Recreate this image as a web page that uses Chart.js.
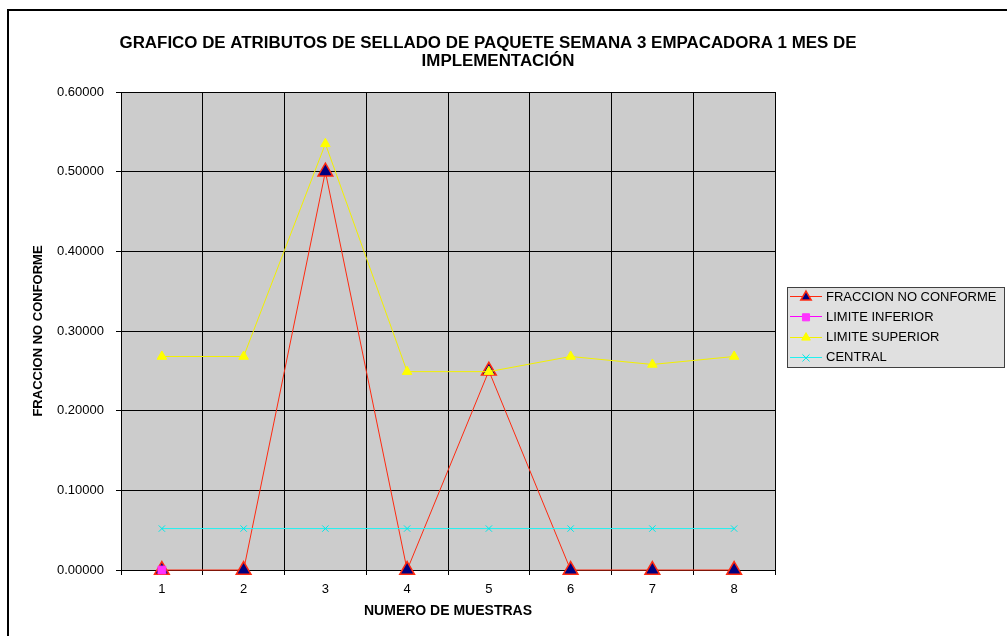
<!DOCTYPE html>
<html>
<head>
<meta charset="utf-8">
<script src="https://cdn.jsdelivr.net/npm/chart.js@4/dist/chart.umd.min.js"></script>
<style>
  html, body { margin: 0; padding: 0; background: #ffffff; overflow: hidden; }
  #wrap { position: relative; width: 1007px; height: 636px; }
</style>
</head>
<body>
<div id="wrap"><canvas id="c" width="1007" height="636"></canvas></div>
<script>
// Sample numbers along the x axis
const muestras = ['1', '2', '3', '4', '5', '6', '7', '8'];
// Fraction non-conforming per sample
const fraccionNoConforme = [0, 0, 0.5, 0, 0.25, 0, 0, 0];
// Lower control limit (only the first point falls inside the 0..0.6 range)
const limiteInferior = [0, null, null, null, null, null, null, null];
// Upper control limit per sample
const limiteSuperior = [0.268, 0.268, 0.535, 0.249, 0.249, 0.268, 0.258, 0.268];
// Center line
const central = [0.052, 0.052, 0.052, 0.052, 0.052, 0.052, 0.052, 0.052];
// Y axis tick values
const yTicks = [0, 0.1, 0.2, 0.3, 0.4, 0.5, 0.6];

const titleLines = ['GRAFICO DE ATRIBUTOS DE SELLADO DE PAQUETE SEMANA 3 EMPACADORA 1 MES DE', 'IMPLEMENTACIÓN'];
const FONT = '"Liberation Sans", Arial, sans-serif';

// Frame, plot background and title
const framePlugin = {
  id: 'frame',
  beforeDraw(chart) {
    const ctx = chart.ctx;
    const a = chart.chartArea;
    ctx.save();
    ctx.fillStyle = '#ffffff';
    ctx.fillRect(0, 0, chart.width, chart.height);
    ctx.strokeStyle = '#000000';
    ctx.lineWidth = 2;
    ctx.strokeRect(8, 10, 1200, 800);
    ctx.fillStyle = '#cccccc';
    ctx.fillRect(a.left, a.top, a.right - a.left, a.bottom - a.top);
    ctx.restore();
  },
  afterDraw(chart) {
    const ctx = chart.ctx;
    ctx.save();
    ctx.fillStyle = '#000000';
    ctx.font = 'bold 16px ' + FONT;
    ctx.textBaseline = 'middle';
    ctx.textAlign = 'center';
    const w0 = ctx.measureText(titleLines[0]).width;
    const sx = 737 / w0;
    const ys = [44, 62];
    const cx = [488, 498];
    titleLines.forEach((t, i) => {
      ctx.save();
      ctx.translate(cx[i], ys[i]);
      ctx.scale(sx, 1);
      ctx.fillText(t, 0, 0);
      ctx.restore();
    });
    ctx.restore();
  }
};

function drawShape(ctx, style, r, x, y) {
  if (style === 'triangle') {
    ctx.moveTo(x, y - r);
    ctx.lineTo(x + r * 0.866, y + r * 0.5);
    ctx.lineTo(x - r * 0.866, y + r * 0.5);
    ctx.closePath();
  } else if (style === 'rect') {
    const s = r * Math.SQRT1_2;
    ctx.rect(x - s, y - s, 2 * s, 2 * s);
  } else if (style === 'crossRot') {
    const s = r * Math.SQRT1_2;
    ctx.moveTo(x - s, y - s); ctx.lineTo(x + s, y + s);
    ctx.moveTo(x + s, y - s); ctx.lineTo(x - s, y + s);
  }
}

// Boxed legend at the right of the plot
const legendPlugin = {
  id: 'boxLegend',
  afterDraw(chart) {
    const ctx = chart.ctx;
    const x = 787, y = 287, w = 217, h = 80;
    ctx.save();
    ctx.fillStyle = '#e0e0e0';
    ctx.fillRect(x, y, w, h);
    ctx.strokeStyle = '#404040';
    ctx.lineWidth = 1;
    ctx.strokeRect(x + 0.5, y + 0.5, w, h);
    ctx.font = '13px ' + FONT;
    ctx.textBaseline = 'middle';
    ctx.textAlign = 'left';
    chart.data.datasets.forEach((ds, i) => {
      const ry = y + 9 + i * 20.3;
      ctx.strokeStyle = ds.borderColor;
      ctx.lineWidth = 1;
      ctx.beginPath();
      ctx.moveTo(x + 3, Math.round(ry) + 0.5);
      ctx.lineTo(x + 35, Math.round(ry) + 0.5);
      ctx.stroke();
      const r = ds.legendRadius;
      ctx.fillStyle = ds.pointBackgroundColor;
      ctx.strokeStyle = ds.pointBorderColor;
      ctx.lineWidth = ds.pointBorderWidth;
      ctx.beginPath();
      drawShape(ctx, ds.pointStyle, r, x + 19, ry + 1);
      if (ds.pointStyle !== 'crossRot') ctx.fill();
      ctx.stroke();
      ctx.fillStyle = '#000000';
      ctx.fillText(ds.label, x + 39, ry + 1);
    });
    ctx.restore();
  }
};

new Chart(document.getElementById('c'), {
  type: 'line',
  data: {
    labels: muestras,
    datasets: [
      {
        label: 'FRACCION NO CONFORME',
        data: fraccionNoConforme,
        borderColor: '#ff2a10',
        borderWidth: 1,
        pointStyle: 'triangle',
        pointRadius: 8.5,
        legendRadius: 6,
        pointBackgroundColor: '#000080',
        pointBorderColor: '#ff2a10',
        pointBorderWidth: 1.5,
        clip: false,
        order: 4
      },
      {
        label: 'LIMITE INFERIOR',
        data: limiteInferior,
        borderColor: '#ff00ff',
        borderWidth: 1,
        pointStyle: 'rect',
        pointRadius: 5.5,
        legendRadius: 5,
        pointBackgroundColor: '#ff33ff',
        pointBorderColor: '#ff33ff',
        pointBorderWidth: 1,
        clip: false,
        order: 3
      },
      {
        label: 'LIMITE SUPERIOR',
        data: limiteSuperior,
        borderColor: '#f2f000',
        borderWidth: 1,
        pointStyle: 'triangle',
        pointRadius: 5.5,
        legendRadius: 5,
        pointBackgroundColor: '#ffff00',
        pointBorderColor: '#ffff00',
        pointBorderWidth: 1,
        clip: false,
        order: 2
      },
      {
        label: 'CENTRAL',
        data: central,
        borderColor: '#22f0f0',
        borderWidth: 1,
        pointStyle: 'crossRot',
        pointRadius: 4.5,
        legendRadius: 5,
        pointBackgroundColor: '#00ffff',
        pointBorderColor: '#00e8e8',
        pointBorderWidth: 1,
        clip: false,
        order: 1
      }
    ]
  },
  options: {
    responsive: false,
    animation: false,
    devicePixelRatio: 1,
    layout: { padding: { left: 31, right: 232, top: 92, bottom: 16 } },
    elements: { line: { tension: 0 } },
    plugins: {
      legend: { display: false },
      title: { display: false },
      tooltip: { enabled: false }
    },
    scales: {
      x: {
        offset: true,
        grid: { offset: true, color: '#000000', lineWidth: 1, tickLength: 5, drawOnChartArea: true },
        border: { color: '#000000', width: 1 },
        ticks: { color: '#000000', font: { family: FONT, size: 13 }, padding: 7, maxRotation: 0 },
        title: { display: true, text: 'NUMERO DE MUESTRAS', color: '#000000', font: { family: FONT, size: 14, weight: 'bold' }, padding: { top: 2, bottom: 0 } },
        afterFit(s) { s.height = 50; }
      },
      y: {
        min: 0,
        max: 0.6,
        afterBuildTicks(s) { s.ticks = yTicks.map(v => ({ value: v })); },
        grid: { color: '#000000', lineWidth: 1, tickLength: 5 },
        border: { color: '#000000', width: 1 },
        ticks: {
          color: '#000000',
          font: { family: FONT, size: 13 },
          padding: 12,
          callback: v => Number(v).toFixed(5)
        },
        title: { display: true, text: 'FRACCION NO CONFORME', color: '#000000', font: { family: FONT, size: 13, weight: 'bold' }, padding: { top: 0, bottom: 0 } },
        afterFit(s) { s.width = 90; }
      }
    }
  },
  plugins: [framePlugin, legendPlugin]
});
</script>
</body>
</html>
